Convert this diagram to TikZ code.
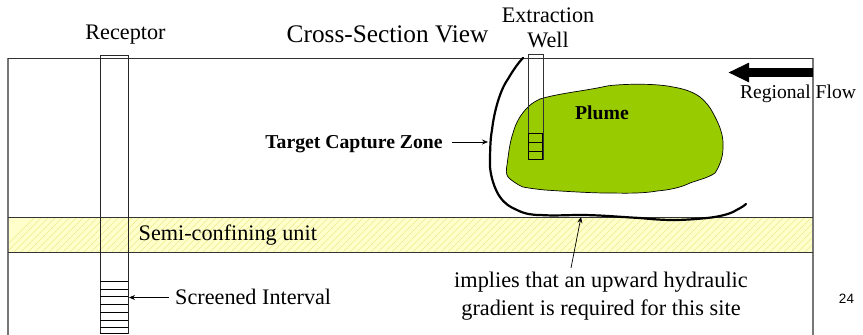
\documentclass[tikz,border=0pt]{standalone}
\usepackage{fontspec}
\setmainfont{Liberation Serif}
\setsansfont{Liberation Sans}
\usetikzlibrary{patterns,arrows.meta}
\definecolor{plume}{HTML}{99CC00}
\definecolor{bandy}{HTML}{FFFFCC}
\definecolor{hatchy}{HTML}{EFE88A}
\definecolor{framegray}{HTML}{777777}
\tikzset{
  x=1pt,y=-1pt,
  frameline/.style={draw=framegray,line width=1.2pt},
  thinline/.style={draw=black!80,line width=0.7pt},
  capture/.style={draw=black,line width=2.2pt,line cap=round,line join=round},
  pointer/.style={draw=black,line width=0.7pt,-{Stealth[length=6pt,width=5pt]}},
  lab/.style={inner sep=0pt,font=\fontsize{22.2}{25}\selectfont,align=center},
  blab/.style={inner sep=0pt,font=\fontsize{19.7}{20}\selectfont\bfseries},
  screenline/.style={draw=black,line width=1pt},
  screenthick/.style={draw=black,line width=1.4pt},
}
\begin{document}
\begin{tikzpicture}
\useasboundingbox (0,0) rectangle (863,335);
\fill[white] (0,0) rectangle (863,335);
% band
\fill[bandy] (8,217.5) rectangle (813,252);
\begin{scope}
\clip (8,217.5) rectangle (813,252);
\foreach \i in {0,7,...,860}{
  \draw[hatchy,line width=0.5pt] (\i,252) -- (\i+34.5,217.5);
}
\end{scope}
% frame
\draw[frameline] (8,335) -- (8,58);
\draw[frameline] (813,58) -- (813,335);
\draw[thinline] (8,58) -- (813,58);
\draw[thinline] (8,217.5) -- (813,217.5);
\draw[thinline] (8,252) -- (813,252);
% plume
\path[fill=plume,draw=black,line width=0.7pt] (528,107)
 .. controls (532,103) and (536,101) .. (540,99)
 .. controls (560,93) and (585,91) .. (607,86)
 .. controls (620,84) and (655,83) .. (673,87)
 .. controls (685,89) and (693,92) .. (700,97)
 .. controls (706,102) and (710,107) .. (713,113)
 .. controls (719,124) and (724,135) .. (723,148)
 .. controls (723,158) and (719,167) .. (715,173)
 .. controls (708,178) and (698,180) .. (690,183)
 .. controls (680,188) and (668,190) .. (657,191)
 .. controls (640,194) and (620,193) .. (607,193)
 .. controls (590,193) and (560,191) .. (545,190)
 .. controls (535,189) and (528,188) .. (523,187)
 .. controls (516,184) and (511,180) .. (508,177)
 .. controls (506,174) and (506,170) .. (507,165)
 .. controls (509,150) and (510,142) .. (513,133)
 .. controls (516,122) and (521,114) .. (528,107) -- cycle;
% extraction well
\node[draw=black!80,line width=0.6pt,minimum width=14.5pt,minimum height=105pt,inner sep=0pt,anchor=north west] (ew) at (528.2,54.3) {};
\draw[screenthick] (528.2,133.5) -- (542.7,133.5);
\draw[screenline] (528.2,142.5) -- (542.7,142.5);
\draw[screenline] (528.2,151) -- (542.7,151);
\draw[screenthick] (528.2,159.2) -- (542.7,159.2);
\draw[screenline] (528.2,133.5) -- (528.2,159.2);
\draw[screenline] (542.7,133.5) -- (542.7,159.2);
% receptor well
\node[draw=black!85,line width=0.7pt,minimum width=28pt,minimum height=278.3pt,inner sep=0pt,anchor=north west] (rw) at (100.3,55) {};
\foreach \yy in {281.7,289,296.7,304.3,312.3,320,327.3,333.3}{
  \draw[screenline] (100.3,\yy) -- (128.3,\yy);
}
% capture zone
\draw[capture] (523,58)
 .. controls (518,63) and (512,72) .. (508,79)
 .. controls (500,90) and (494,112) .. (492,130)
 .. controls (490,140) and (490,155) .. (490,167)
 .. controls (491,178) and (495,190) .. (500,197)
 .. controls (505,204) and (510,207) .. (517,210)
 .. controls (525,214) and (532,215) .. (540,215)
 .. controls (555,216) and (565,215) .. (580,215)
 .. controls (600,215) and (620,217) .. (640,218)
 .. controls (650,219) and (662,220) .. (673,220)
 .. controls (685,220) and (697,219) .. (707,218)
 .. controls (717,217) and (726,215) .. (733,212)
 .. controls (738,209) and (743,207) .. (746,204);
% regional flow arrow
\coordinate (flowstart) at (813,72.5);
\coordinate (flowend) at (728,72.5);
\draw[line width=9.5pt,-{Triangle[length=21pt,width=18pt]}] (flowstart) -- (flowend);
% labels
\node[lab,anchor=center] (lr) at (125.5,35) {Receptor};
\node[inner sep=0pt,font=\fontsize{25.3}{26}\selectfont] (lc) at (387.5,34) {Cross-Section View};
\node[lab] (le) at (548,28) {Extraction\\Well};
\node[inner sep=0pt,font=\fontsize{19.6}{20}\selectfont] (lf) at (798,94) {Regional Flow};
\node[blab] (lp) at (602,113) {Plume};
\node[blab] (lt) at (354,144.5) {Target Capture Zone};
\node[lab,anchor=west] (ls) at (138.5,235) {Semi-confining unit};
\node[lab,anchor=west] (li) at (175,297) {Screened Interval};
\node[lab,font=\fontsize{22.3}{28}\selectfont] (lg) at (601,296) {implies that an upward hydraulic\\gradient is required for this site};
\node[inner sep=0pt,font=\fontsize{13.5}{14}\selectfont\sffamily] (ln) at (846.5,299) {24};
% pointers
\coordinate (pa) at (488,142);
\coordinate (pat) at (452,142);
\draw[pointer] (pat) -- (pa);
\coordinate (pb) at (129,297.5);
\coordinate (pbt) at (169,297.5);
\draw[pointer] (pbt) -- (pb);
\coordinate (pc) at (581,217);
\coordinate (pd) at (571,268);
\draw[pointer] (pd) -- (pc);
\end{tikzpicture}
\end{document}
